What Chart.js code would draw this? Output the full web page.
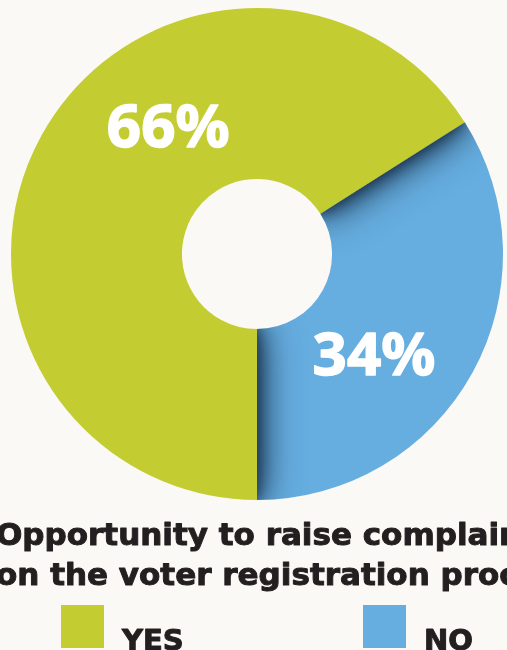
<!DOCTYPE html>
<html>
<head>
<meta charset="utf-8">
<script src="https://cdn.jsdelivr.net/npm/chart.js@4.4.1/dist/chart.umd.min.js"></script>
<style>
  html, body { margin: 0; padding: 0; background: #fbf9f6; overflow: hidden; }
  canvas { display: block; }
</style>
</head>
<body>
<canvas id="chart" width="507" height="650"></canvas>
<script>
// Survey answers (percent)
const categories = ['YES', 'NO'];
const values = [66, 34];
const colors = ['#c3cd32', '#66aee0'];
const titleLines = ['Opportunity to raise complaints', 'on the voter registration process'];

const NUM_FONT = '"Noto Sans", "DejaVu Sans", sans-serif';
const TEXT_FONT = '"DejaVu Sans", "Noto Sans", sans-serif';
const INK = '#231f20';

// Soft inner shadow cast by the YES slice onto the NO slice
const sliceShadow = {
  id: 'sliceShadow',
  afterDatasetsDraw(chart) {
    const meta = chart.getDatasetMeta(0);
    const caster = meta.data[0], target = meta.data[1];
    if (!caster || !target) return;
    const ctx = chart.ctx;
    const arcPath = (a) => {
      ctx.beginPath();
      ctx.arc(a.x, a.y, a.outerRadius, a.startAngle, a.endAngle);
      ctx.arc(a.x, a.y, a.innerRadius, a.endAngle, a.startAngle, true);
      ctx.closePath();
    };
    ctx.save();
    arcPath(target);
    ctx.clip();
    ctx.fillStyle = colors[0];
    [[44, 'rgba(22, 42, 66, 0.95)'], [26, 'rgba(22, 42, 66, 0.85)'], [12, 'rgba(22, 42, 66, 0.7)']].forEach(([blur, col]) => {
      ctx.shadowColor = col;
      ctx.shadowBlur = blur;
      arcPath(caster);
      ctx.fill();
    });
    ctx.restore();
  }
};

// Percent labels inside the ring, placed by angle (deg from 12 o'clock) and radius share
const valueLabels = {
  id: 'valueLabels',
  afterDatasetsDraw(chart, args, opts) {
    const meta = chart.getDatasetMeta(0);
    const ctx = chart.ctx;
    ctx.save();
    ctx.fillStyle = '#ffffff';
    ctx.strokeStyle = '#ffffff';
    ctx.lineWidth = 1.5;
    ctx.lineJoin = 'round';
    ctx.font = 'bold 60px ' + NUM_FONT;
    ctx.textAlign = 'center';
    ctx.textBaseline = 'middle';
    meta.data.forEach((arc, i) => {
      const p = opts.places[i];
      const a = (p.angle - 90) * Math.PI / 180;
      const r = arc.outerRadius * p.radius;
      const x = arc.x + r * Math.cos(a), y = arc.y + r * Math.sin(a) + 2;
      ctx.fillText(values[i] + '%', x, y);
      ctx.strokeText(values[i] + '%', x, y);
    });
    ctx.restore();
  }
};

// Two-line caption and legend under the ring
const captionLegend = {
  id: 'captionLegend',
  afterDraw(chart, args, opts) {
    const ctx = chart.ctx;
    ctx.save();
    ctx.fillStyle = INK;
    ctx.strokeStyle = INK;
    ctx.lineWidth = 1;
    ctx.lineJoin = 'round';
    ctx.font = 'bold 31px ' + TEXT_FONT;
    ctx.textAlign = 'left';
    ctx.textBaseline = 'alphabetic';
    titleLines.forEach((t, i) => {
      const y = opts.titleY + i * opts.lineGap;
      ctx.fillText(t, opts.titleX, y);
      ctx.strokeText(t, opts.titleX, y);
    });

    categories.forEach((c, i) => {
      const x = opts.legendX + i * opts.itemGap;
      ctx.fillStyle = colors[i];
      ctx.fillRect(x, opts.boxY, opts.box, opts.box);
      ctx.fillStyle = INK;
      ctx.font = 'bold 29px ' + TEXT_FONT;
      ctx.fillText(c, x + opts.box + 18, opts.boxY + 45);
      ctx.strokeText(c, x + opts.box + 18, opts.boxY + 45);
    });
    ctx.restore();
  }
};

new Chart(document.getElementById('chart'), {
  type: 'doughnut',
  data: {
    labels: categories,
    datasets: [{
      data: values,
      backgroundColor: colors,
      borderWidth: 0,
      hoverOffset: 0
    }]
  },
  options: {
    responsive: false,
    animation: false,
    rotation: 180,
    cutout: '30.5%',
    layout: { padding: { left: 11, right: 4, top: 8, bottom: 150 } },
    plugins: {
      legend: { display: false },
      tooltip: { enabled: false },
      valueLabels: { places: [{ angle: 324.8, radius: 0.626 }, { angle: 131, radius: 0.63 }] },
      captionLegend: { titleX: -4, titleY: 545, lineGap: 40, legendX: 61, itemGap: 302, boxY: 605, box: 43 }
    }
  },
  plugins: [sliceShadow, valueLabels, captionLegend]
});
</script>
</body>
</html>
